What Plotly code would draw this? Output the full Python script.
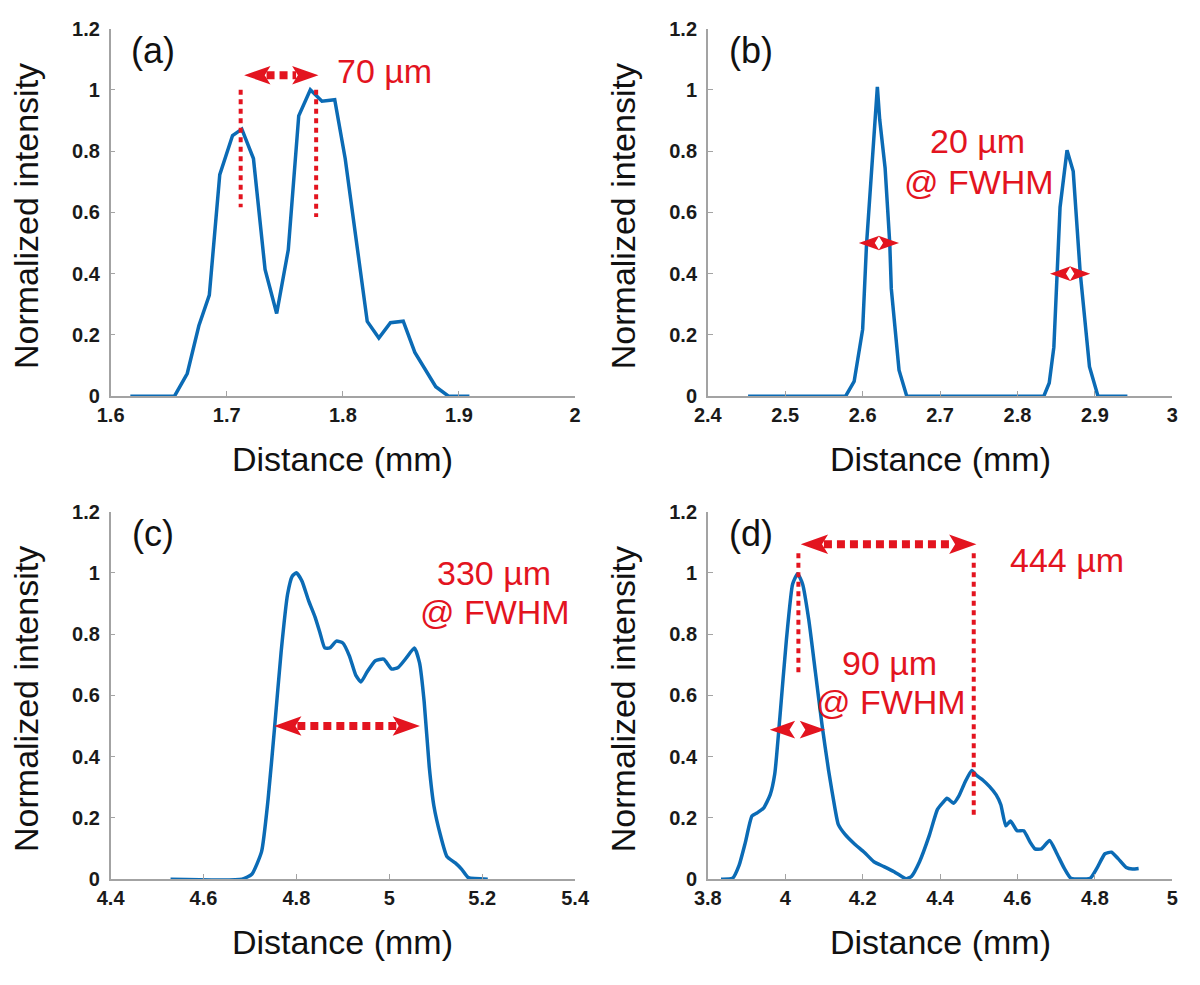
import plotly.graph_objects as go

# ---------------- data ----------------
# (a)
A_X = [1.617, 1.655, 1.666, 1.676, 1.685, 1.694, 1.705, 1.713, 1.723, 1.733, 1.743,
       1.753, 1.762, 1.772, 1.782, 1.793, 1.802, 1.821, 1.831, 1.841, 1.852, 1.862,
       1.880, 1.891, 1.909]
A_Y = [0.0, 0.0, 0.074, 0.23, 0.33, 0.723, 0.851, 0.872, 0.776, 0.414, 0.27,
       0.478, 0.915, 1.0, 0.963, 0.968, 0.776, 0.244, 0.19, 0.24, 0.245, 0.143,
       0.031, 0.0, 0.0]
# (b)
B_X = [2.452, 2.578, 2.589, 2.600, 2.605, 2.612, 2.619, 2.622, 2.629, 2.635, 2.637,
       2.647, 2.657, 2.834, 2.841, 2.847, 2.855, 2.864, 2.872, 2.881, 2.893, 2.904, 2.942]
B_Y = [0.0, 0.0, 0.048, 0.218, 0.495, 0.76, 1.01, 0.904, 0.745, 0.5, 0.351,
       0.085, 0.0, 0.0, 0.043, 0.16, 0.617, 0.803, 0.734, 0.404, 0.096, 0.0, 0.0]
# (c)
C_X = [4.529, 4.683, 4.704, 4.725, 4.739, 4.753, 4.767, 4.781, 4.791, 4.800, 4.812,
       4.826, 4.840, 4.851, 4.861, 4.872, 4.886, 4.900, 4.914, 4.928, 4.939, 4.952,
       4.970, 4.988, 5.005, 5.019, 5.037, 5.054, 5.065, 5.075, 5.086, 5.096, 5.110,
       5.124, 5.142, 5.156, 5.170, 5.212]
C_Y = [0.0, 0.0, 0.016, 0.09, 0.26, 0.495, 0.74, 0.93, 0.989, 1.0, 0.973,
       0.91, 0.856, 0.803, 0.755, 0.755, 0.777, 0.771, 0.729, 0.665, 0.644, 0.676,
       0.713, 0.718, 0.686, 0.691, 0.723, 0.755, 0.707, 0.58, 0.367, 0.239, 0.144,
       0.074, 0.053, 0.032, 0.005, 0.0]
# (d)
D_X = [3.834, 3.864, 3.881, 3.897, 3.914, 3.927, 3.944, 3.961, 3.973, 3.986, 4.003,
       4.019, 4.032, 4.045, 4.061, 4.078, 4.095, 4.112, 4.129, 4.137, 4.154, 4.179,
       4.204, 4.229, 4.255, 4.280, 4.301, 4.313, 4.326, 4.347, 4.372, 4.393, 4.406,
       4.418, 4.435, 4.448, 4.465, 4.482, 4.494, 4.511, 4.528, 4.545, 4.557, 4.570,
       4.582, 4.599, 4.616, 4.633, 4.645, 4.662, 4.683, 4.700, 4.721, 4.738, 4.788,
       4.805, 4.826, 4.843, 4.860, 4.881, 4.897, 4.913]
D_Y = [0.0, 0.003, 0.046, 0.12, 0.206, 0.216, 0.232, 0.275, 0.344, 0.526, 0.781,
       0.963, 0.997, 0.963, 0.845, 0.675, 0.504, 0.355, 0.227, 0.179, 0.147, 0.115,
       0.088, 0.057, 0.041, 0.025, 0.009, 0.001, 0.009, 0.057, 0.142, 0.227, 0.248,
       0.264, 0.248, 0.27, 0.318, 0.355, 0.339, 0.323, 0.302, 0.275, 0.243, 0.174,
       0.19, 0.158, 0.158, 0.12, 0.099, 0.099, 0.126, 0.088, 0.035, 0.003, 0.003,
       0.035, 0.083, 0.088, 0.067, 0.038, 0.033, 0.035]

PANEL_LABELS = ["(a)", "(b)", "(c)", "(d)"]
X_RANGES = [[1.6, 2.0], [2.4, 3.0], [4.4, 5.4], [3.8, 5.0]]
X_DTICKS = [0.1, 0.1, 0.2, 0.2]
Y_RANGE = [0, 1.2]
X_TITLE = "Distance (mm)"
Y_TITLE = "Normalized intensity"

# annotation texts: (panel, text, x, y)
TEXTS = [
    (0, "70 µm", 1.836, 1.06),
    (1, "20 µm", 2.748, 0.832),
    (1, "@ FWHM", 2.750, 0.699),
    (2, "330 µm", 5.225, 0.999),
    (2, "@ FWHM", 5.228, 0.871),
    (3, "444 µm", 4.728, 1.041),
    (3, "90 µm", 4.270, 0.706),
    (3, "@ FWHM", 4.274, 0.578),
]
# vertical dotted markers: (panel, x, y_top, y_bottom)
VLINES = [
    (0, 1.712, 1.0, 0.617),
    (0, 1.777, 1.0, 0.585),
    (3, 4.034, 1.064, 0.675),
    (3, 4.487, 1.064, 0.206),
]
# double arrows: (panel, x_left, x_right, y, head_len_px, head_h_px)
ARROWS = [
    (0, 1.715, 1.779, 1.048, 27, 19),
    (1, 2.595, 2.647, 0.5, 21, 15),
    (1, 2.842, 2.894, 0.4, 21, 15),
    (2, 4.752, 5.066, 0.5, 28, 20),
    (3, 4.040, 4.494, 1.093, 28, 20),
    (3, 3.960, 4.103, 0.488, 26, 18),
]

SERIES = [(A_X, A_Y), (B_X, B_Y), (C_X, C_Y), (D_X, D_Y)]

# ---------------- layout geometry ----------------
W, H = 1200, 985
PW, PH = 476, 376
LEFTS = [99, 711, 99, 711]
BOTTOMS = [394, 394, 888, 888]   # pixel row of y=0

BLUE = "#0b6bb5"
RED = "#e3141f"
AXC = "#a3a3a3"
FONT = "Liberation Sans, Arial, sans-serif"

fig = go.Figure()
for i, (xs, ys) in enumerate(SERIES):
    sfx = "" if i == 0 else str(i + 1)
    fig.add_trace(go.Scatter(
        x=xs, y=ys, mode="lines",
        line=dict(color=BLUE, width=3.5,
                  shape="spline" if i >= 2 else "linear", smoothing=0.5),
        xaxis="x" + sfx, yaxis="y" + sfx, showlegend=False, hoverinfo="skip"))

layout = dict(width=W, height=H, margin=dict(l=0, r=0, t=0, b=0),
              paper_bgcolor="white", plot_bgcolor="white", showlegend=False)

annotations = []
shapes = []
for i in range(4):
    sfx = "" if i == 0 else str(i + 1)
    x0 = LEFTS[i] / W
    x1 = (LEFTS[i] + PW) / W
    y0 = 1 - BOTTOMS[i] / H
    y1 = 1 - (BOTTOMS[i] - PH) / H
    layout["xaxis" + sfx] = dict(
        domain=[x0, x1], range=X_RANGES[i], anchor="y" + sfx,
        tick0=X_RANGES[i][0], dtick=X_DTICKS[i],
        showline=True, linecolor=AXC, linewidth=1.5, mirror=False,
        ticks="inside", ticklen=5, tickcolor=AXC, tickwidth=1,
        showgrid=False, zeroline=False, ticklabelstandoff=0,
        tickfont=dict(family=FONT, size=20, color="#1a1a1a", weight="bold"))
    layout["yaxis" + sfx] = dict(
        domain=[y0, y1], range=Y_RANGE, anchor="x" + sfx,
        tick0=0, dtick=0.2,
        showline=True, linecolor=AXC, linewidth=1.5, mirror=False,
        ticks="inside", ticklen=5, tickcolor=AXC, tickwidth=1,
        showgrid=False, zeroline=False, ticklabelstandoff=5,
        tickfont=dict(family=FONT, size=20, color="#1a1a1a", weight="bold"))
    # axis titles
    annotations.append(dict(text=X_TITLE, xref="x%s domain" % sfx, yref="y%s domain" % sfx,
                            x=0.5, y=0, yshift=-63, xanchor="center", yanchor="middle",
                            showarrow=False, font=dict(family=FONT, size=34, color="#111")))
    annotations.append(dict(text=Y_TITLE, xref="x%s domain" % sfx, yref="y%s domain" % sfx,
                            x=0, y=0.5, xshift=-84, yshift=-4, xanchor="center", yanchor="middle",
                            textangle=-90, showarrow=False,
                            font=dict(family=FONT, size=34, color="#111")))
    # panel label
    annotations.append(dict(text=PANEL_LABELS[i], xref="x%s domain" % sfx, yref="y%s domain" % sfx,
                            x=0.092, y=0.94, xanchor="center", yanchor="middle",
                            showarrow=False, font=dict(family=FONT, size=36, color="#111")))

for (p, t, x, y) in TEXTS:
    sfx = "" if p == 0 else str(p + 1)
    annotations.append(dict(text=t, xref="x" + sfx, yref="y" + sfx, x=x, y=y,
                            xanchor="center", yanchor="middle", showarrow=False,
                            font=dict(family=FONT, size=34, color=RED)))

for (p, x, yt, yb) in VLINES:
    sfx = "" if p == 0 else str(p + 1)
    shapes.append(dict(type="line", xref="x" + sfx, yref="y" + sfx,
                       x0=x, x1=x, y0=yt, y1=yb,
                       line=dict(color=RED, width=4, dash="5px,4.5px")))


def head_path(p, xt, y, direction, L, Hh):
    xr = X_RANGES[p]
    sx = (xr[1] - xr[0]) / PW
    sy = (Y_RANGE[1] - Y_RANGE[0]) / PH
    xb = xt - direction * L * sx
    xn = xt - direction * 0.78 * L * sx
    return "M%f,%f L%f,%f L%f,%f L%f,%f Z" % (
        xt, y, xb, y + Hh / 2 * sy, xn, y, xb, y - Hh / 2 * sy)


for (p, xl, xr_, y, L, Hh) in ARROWS:
    sfx = "" if p == 0 else str(p + 1)
    sx = (X_RANGES[p][1] - X_RANGES[p][0]) / PW
    for xt, d in ((xl, -1), (xr_, 1)):
        shapes.append(dict(type="path", xref="x" + sfx, yref="y" + sfx,
                           path=head_path(p, xt, y, d, L, Hh),
                           fillcolor=RED, line=dict(width=0)))
    inner0 = xl + L * 0.85 * sx
    inner1 = xr_ - L * 0.85 * sx
    if inner1 - inner0 > 15 * sx:
        shapes.append(dict(type="line", xref="x" + sfx, yref="y" + sfx,
                           x0=inner0, x1=inner1, y0=y, y1=y,
                           line=dict(color=RED, width=8, dash="8px,5px")))

layout["annotations"] = annotations
layout["shapes"] = shapes
fig.update_layout(**layout)
fig.write_html("out.html", config={"displayModeBar": False},
               post_script="document.body.style.margin='0';document.body.style.overflow='hidden';")
